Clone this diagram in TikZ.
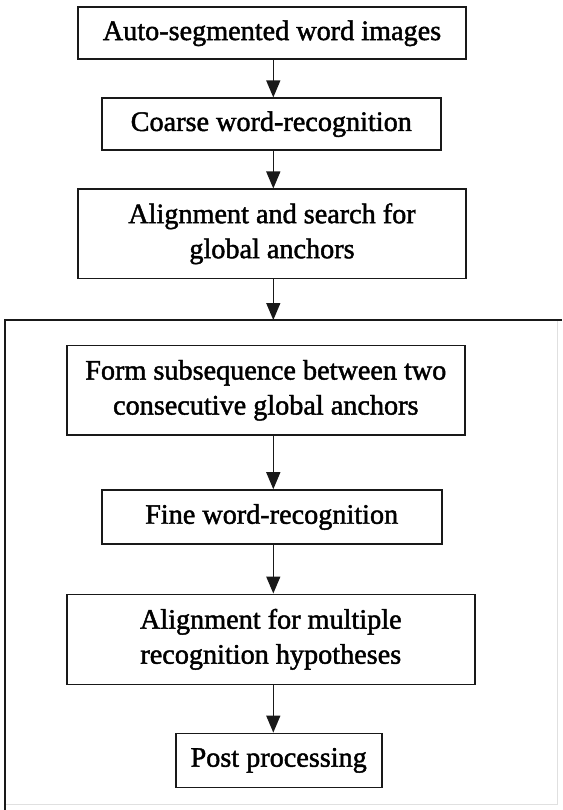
\documentclass[tikz,border=0pt]{standalone}
\usepackage{fontspec}
\setmainfont{Liberation Serif}[FakeBold=1.6]
\usetikzlibrary{arrows.meta}
\begin{document}
\begin{tikzpicture}[x=1pt,y=-1pt,
  box/.style={draw=black!90, line width=1.6pt, inner sep=0pt, align=center,
    font=\fontsize{28.2}{35}\selectfont},
  flow/.style={draw=black!90, line width=1.4pt, -{Triangle[length=17pt,width=14pt]}},
  frameline/.style={draw=black!90, line width=1.6pt}]
\useasboundingbox (0,0) rectangle (562,810);
\fill[white] (0,0) rectangle (562,810);
% outer container (only top and left edges show)
\draw[black!12, line width=0.8pt] (557,320) -- (557,804) -- (5,804);
\draw[frameline] (562,320) -- (5,320) -- (5,810);
\coordinate (ax) at (273.3,0);
\coordinate (ctop) at (273.3,320);
% upper boxes
\node[box, minimum width=388pt, minimum height=52pt] (b1) at (272,33.3) {Auto-segmented word images};
\node[box, minimum width=339pt, minimum height=52pt] (b2) at (271.3,124.2) {Coarse word-recognition};
\node[box, minimum width=388pt, minimum height=89pt] (b3) at (272,233.8) {Alignment and search for\\global anchors};
% boxes inside the container
\node[box, minimum width=398pt, minimum height=89.3pt] (b4) at (265.8,390.3) {Form subsequence between two\\consecutive global anchors};
\node[box, minimum width=340pt, minimum height=54pt] (b5) at (271.7,517) {Fine word-recognition};
\node[box, minimum width=408pt, minimum height=90pt] (b6) at (270.8,639.3) {Alignment for multiple\\recognition hypotheses};
\node[box, minimum width=206pt, minimum height=54pt] (b7) at (278.7,760.4) {Post processing};
% connectors
\draw[flow] (b1.south -| ax) -- (b2.north -| ax);
\draw[flow] (b2.south -| ax) -- (b3.north -| ax);
\draw[flow] (b3.south -| ax) -- (ctop);
\draw[flow] (b4.south -| ax) -- (b5.north -| ax);
\draw[flow] (b5.south -| ax) -- (b6.north -| ax);
\draw[flow] (b6.south -| ax) -- (b7.north -| ax);
\end{tikzpicture}
\end{document}
